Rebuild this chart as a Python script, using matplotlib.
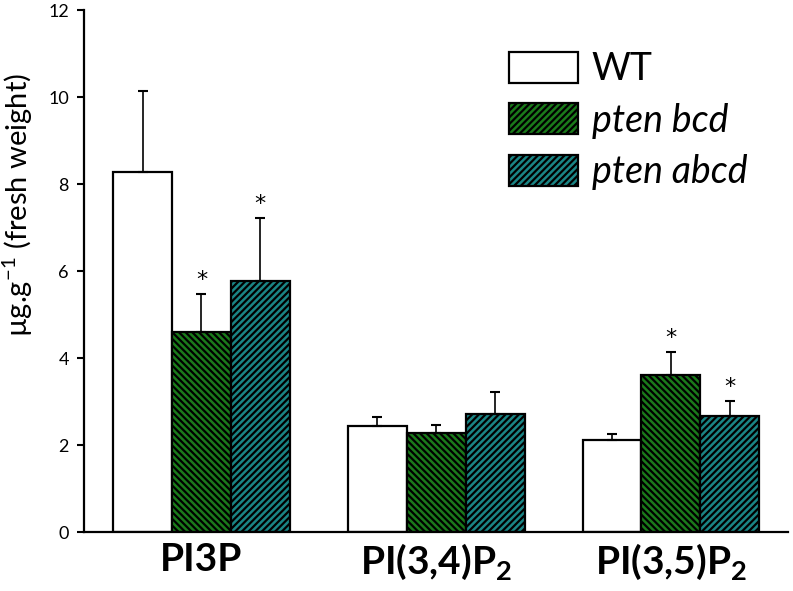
import numpy as np
import matplotlib
matplotlib.use("Agg")
import matplotlib.pyplot as plt
from matplotlib.patches import Patch

plt.rcParams["font.family"] = ["Lato", "DejaVu Sans"]
plt.rcParams["hatch.linewidth"] = 1.6
plt.rcParams["mathtext.fontset"] = "custom"
plt.rcParams["mathtext.rm"] = "Lato"
plt.rcParams["mathtext.bf"] = "Lato:bold"

# dados
categorias = ["PI3P", r"PI(3,4)P$_\mathbf{2}$", r"PI(3,5)P$_\mathbf{2}$"]
series = ["WT", "pten bcd", "pten abcd"]
wt = [8.28, 2.43, 2.12]
wt_err = [1.87, 0.21, 0.13]
bcd = [4.59, 2.27, 3.60]
bcd_err = [0.88, 0.18, 0.54]
abcd = [5.77, 2.71, 2.66]
abcd_err = [1.45, 0.50, 0.35]
# asteriscos (significância)
bcd_sig = [True, False, True]
abcd_sig = [True, False, True]

cores = ["white", "#1a7a1a", "#1a8585"]
hatches = [None, "\\\\\\\\\\", "/////"]

fig = plt.figure(figsize=(7.93, 5.91), dpi=100)
ax = fig.add_axes([0.106, 0.0998, 0.888, 0.883])

x = np.arange(len(categorias))
w = 0.251
valores = [wt, bcd, abcd]
erros = [wt_err, bcd_err, abcd_err]
sigs = [None, bcd_sig, abcd_sig]

for i in range(3):
    pos = x + (i - 1) * w
    ax.bar(pos, valores[i], w, color=cores[i], edgecolor="black", linewidth=1.6,
           hatch=hatches[i], zorder=2)
    ax.errorbar(pos, valores[i], yerr=[[0] * 3, erros[i]], fmt="none",
                ecolor="black", elinewidth=1.2, capsize=3.5, capthick=1.5, zorder=3)
    if sigs[i] is not None:
        for p, v, e, s in zip(pos, valores[i], erros[i], sigs[i]):
            if s:
                ax.annotate("*", (p, v + e), xytext=(0, 3), textcoords="offset points",
                            ha="center", va="bottom", fontsize=16, family="DejaVu Sans")

ax.set_xlim(-0.5, 2.5)
ax.set_ylim(0, 12)
ax.set_yticks(range(0, 13, 2))
ax.tick_params(axis="y", direction="out", length=5, width=1.5, labelsize=13, pad=6)
ax.tick_params(axis="x", length=0, labelsize=28, pad=7)
ax.set_xticks(x)
ax.set_xticklabels(categorias, fontweight="bold")
ax.set_ylabel("µg.g$^{-1}$ (fresh weight)", fontsize=21)
ax.yaxis.set_label_coords(-0.07, 0.626)

for s in ["top", "right"]:
    ax.spines[s].set_visible(False)
for s in ["left", "bottom"]:
    ax.spines[s].set_linewidth(1.6)

handles = [Patch(facecolor=cores[0], edgecolor="black", linewidth=1.6),
           Patch(facecolor=cores[1], edgecolor="black", linewidth=1.6, hatch="/////"),
           Patch(facecolor=cores[2], edgecolor="black", linewidth=1.6, hatch="/////")]
leg = ax.legend(handles, series, loc="upper left", bbox_to_anchor=(509 / 793, 1 - 51 / 591),
                bbox_transform=fig.transFigure, frameon=False, fontsize=27,
                handlelength=1.85, handleheight=0.9, labelspacing=0.42,
                handletextpad=0.35, borderpad=0, borderaxespad=0)
for t in leg.get_texts()[1:]:
    t.set_style("italic")

fig.savefig("out.png", dpi=100)
